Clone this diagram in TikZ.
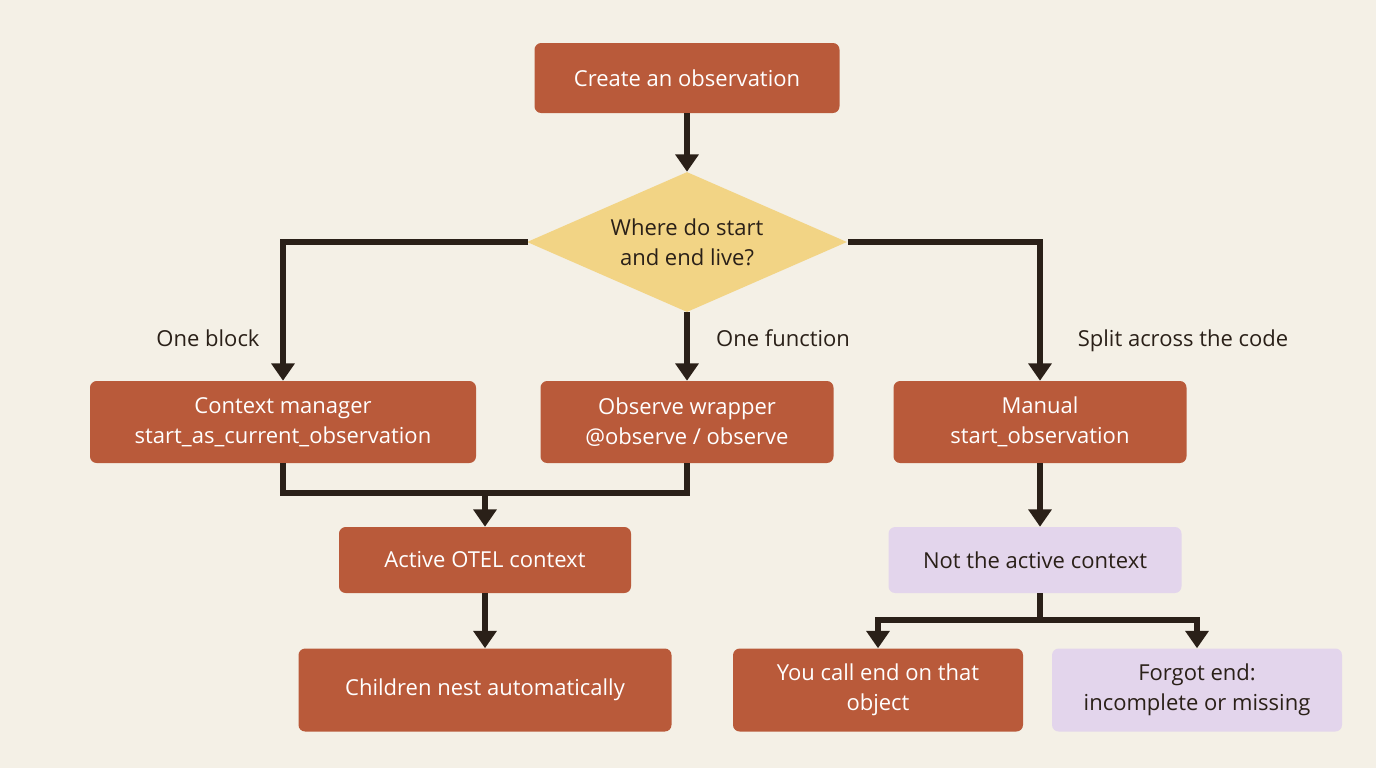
\documentclass[tikz,border=0pt]{standalone}
\usepackage{fontspec}
\setmainfont{Open Sans}
\usetikzlibrary{shapes.geometric,arrows.meta}
\definecolor{bg}{HTML}{F4F0E6}
\definecolor{rust}{HTML}{B95A3A}
\definecolor{sand}{HTML}{F2D485}
\definecolor{lav}{HTML}{E3D5EC}
\definecolor{ink}{HTML}{2A2018}
\tikzset{
  box/.style={fill=rust,text=white,rounded corners=5pt,align=center,font=\fontsize{16.5}{22.5}\selectfont,inner sep=0pt},
  lbox/.style={box,fill=lav,text=ink},
  conn/.style={draw=ink,line width=3.8pt},
  arr/.style={conn,-{Triangle[length=13pt,width=17pt]}},
  lbl/.style={text=ink,font=\fontsize{16.5}{20}\selectfont,anchor=base},
}
\begin{document}
\begin{tikzpicture}[x=0.75pt,y=-0.75pt]
\fill[bg] (0,0) rectangle (1376,768);
\useasboundingbox (0,0) rectangle (1376,768);
\node[box,minimum width=305*0.75pt,minimum height=70*0.75pt] (create) at (687,78) {Create an observation};
\node[diamond,fill=sand,text=ink,align=center,font=\fontsize{16.5}{22.5}\selectfont,minimum width=320*0.75pt,minimum height=140*0.75pt,aspect=2.3,inner sep=0pt] (where) at (687,242) {Where do start\\and end live?};
\node[box,minimum width=386*0.75pt,minimum height=82*0.75pt] (ctx) at (283,422) {Context manager\\start\_as\_current\_observation};
\node[box,minimum width=293*0.75pt,minimum height=82*0.75pt] (obs) at (687,422) {Observe wrapper\\@observe / observe};
\node[box,minimum width=293*0.75pt,minimum height=82*0.75pt] (man) at (1040,422) {Manual\\start\_observation};
\node[box,minimum width=292*0.75pt,minimum height=66*0.75pt] (act) at (485,560) {Active OTEL context};
\node[box,minimum width=373*0.75pt,minimum height=83*0.75pt] (child) at (485,690) {Children nest automatically};
\node[lbox,minimum width=293*0.75pt,minimum height=66*0.75pt] (not) at (1035,560) {Not the active context};
\node[box,minimum width=290*0.75pt,minimum height=83*0.75pt] (you) at (878,690) {You call end on that\\object};
\node[lbox,minimum width=290*0.75pt,minimum height=83*0.75pt] (forg) at (1197,690) {Forgot end:\\incomplete or missing};
\coordinate (wl) at (528,242);
\coordinate (wr) at (848,242);
\draw[arr] (create) -- (where.north);
\draw[arr] (wl) -| (ctx.north);
\draw[arr] (where.south) -- (obs.north);
\draw[arr] (wr) -| (man.north);
\node[lbl] (l1) at (208,346) {One block};
\node[lbl] (l2) at (783,346) {One function};
\node[lbl] (l3) at (1183,346) {Split across the code};
\coordinate (j) at (485,493);
\draw[conn] (ctx.south) |- (j) -| (obs.south);
\draw[arr] (j) -- (act.north);
\draw[arr] (act) -- (child);
\draw[arr] (man) -- (man.south |- not.north);
\coordinate (k) at (1040,620);
\draw[conn] (not.south -| k) -- (k);
\draw[arr] (k) -| (you.north);
\draw[arr] (k) -| (forg.north);
\end{tikzpicture}
\end{document}
